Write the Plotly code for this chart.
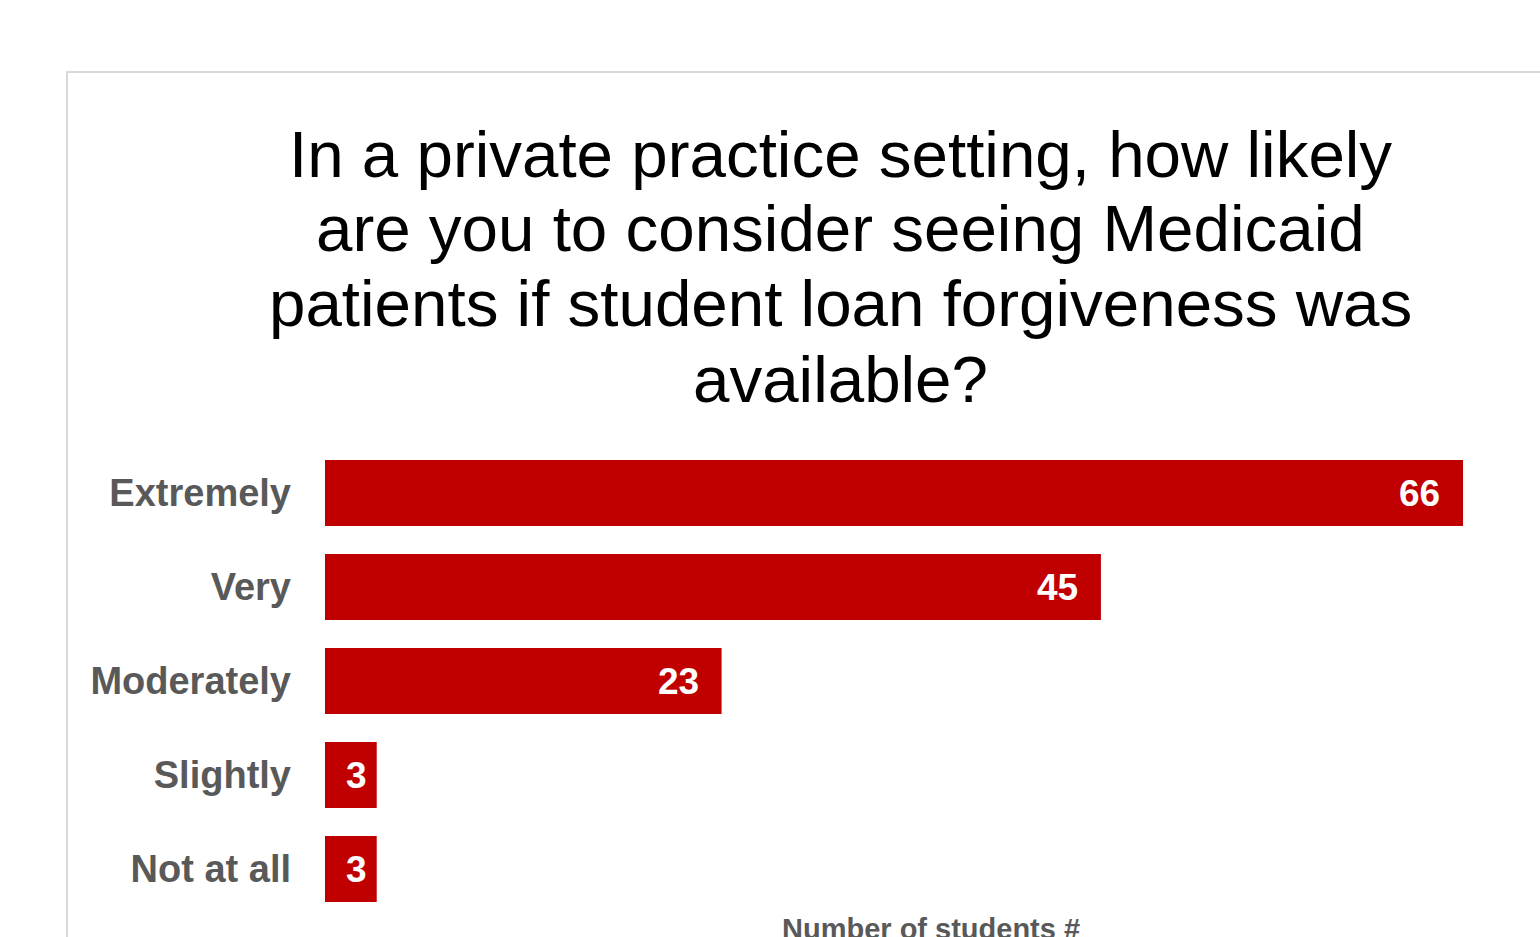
import plotly.graph_objects as go

# Survey responses (top to bottom)
categories = ["Extremely", "Very", "Moderately", "Slightly", "Not at all"]
students = [66, 45, 23, 3, 3]

title_lines = [
    "In a private practice setting, how likely",
    "are you to consider seeing Medicaid",
    "patients if student loan forgiveness was",
    "available?",
]
axis_title = "Number of students #"

FONT = "Arial, Liberation Sans, sans-serif"
RED = "#C00000"
GREY = "#595959"

W, H = 1540, 937
L, R, T, B = 325, 8, 446, 21
X_MAX = 70
plot_w = W - L - R
plot_h = H - T - B
px_per_unit = plot_w / X_MAX


def px_to_paper_x(px):
    return (px - L) / plot_w


def px_to_paper_y(py):
    return (H - B - py) / plot_h


fig = go.Figure(
    go.Bar(
        x=students,
        y=categories,
        orientation="h",
        marker=dict(color=RED, line=dict(width=0)),
        width=0.70,
        hoverinfo="x+y",
    )
)

# Value labels placed inside the bar ends
for cat, v in zip(categories, students):
    bar_px = v * px_per_unit
    if bar_px > 100:
        fig.add_annotation(x=v, y=cat, xref="x", yref="y", text=f"<b>{v}</b>",
                           xanchor="right", xshift=-21, showarrow=False,
                           font=dict(family=FONT, size=37, color="white"))
    else:
        fig.add_annotation(x=v / 2, y=cat, xref="x", yref="y", text=f"<b>{v}</b>",
                           xanchor="center", xshift=6, showarrow=False,
                           font=dict(family=FONT, size=37, color="white"))

# Multi-line heading, one annotation per line for tight line spacing
for i, line in enumerate(title_lines):
    fig.add_annotation(x=px_to_paper_x(840), y=px_to_paper_y(154 + 75 * i),
                       xref="paper", yref="paper", xanchor="center", yanchor="middle",
                       text=line, showarrow=False,
                       font=dict(family=FONT, size=65.5, color="black"))

# Axis title below the bars
fig.add_annotation(x=px_to_paper_x(931), y=px_to_paper_y(911), xref="paper", yref="paper",
                   yanchor="top", text=f"<b>{axis_title}</b>",
                   showarrow=False, font=dict(family=FONT, size=29, color=GREY))

# Light frame around the chart area
fig.add_shape(type="rect", xref="paper", yref="paper",
              x0=px_to_paper_x(67), x1=1.2,
              y0=-0.3, y1=px_to_paper_y(72),
              line=dict(color="#D9D9D9", width=2), layer="below")

fig.update_layout(
    width=W, height=H,
    margin=dict(l=L, r=R, t=T, b=B, pad=0),
    paper_bgcolor="white", plot_bgcolor="white",
    showlegend=False,
    xaxis=dict(range=[0, X_MAX], visible=False, fixedrange=True),
    yaxis=dict(categoryorder="array", categoryarray=categories[::-1],
               range=[-0.5, len(categories) - 0.5],
               showgrid=False, zeroline=False, showline=False, ticks="",
               ticklabelstandoff=33,
               tickfont=dict(family=FONT, size=38, color=GREY),
               tickprefix="<b>", ticksuffix="</b>"),
)

fig.write_html("out.html")
